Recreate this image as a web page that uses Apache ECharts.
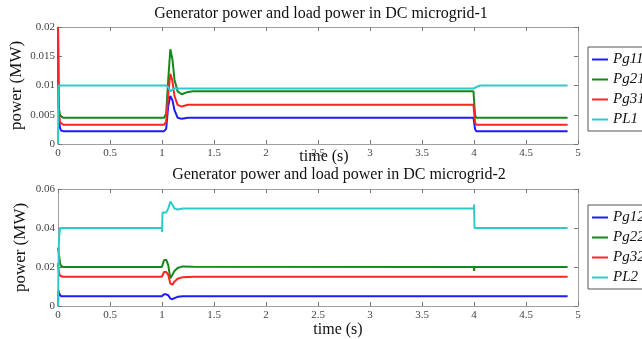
<!DOCTYPE html>
<html>
<head>
<meta charset="utf-8">
<script src="https://cdn.jsdelivr.net/npm/echarts@6/dist/echarts.min.js"></script>
<style>html,body{margin:0;padding:0;background:#fff;}#c{width:642px;height:339px;}</style>
</head>
<body>
<div id="c"></div>
<script>
// ---- Data ----
var xTicks = [0, 0.5, 1, 1.5, 2, 2.5, 3, 3.5, 4, 4.5, 5];
var names1 = ['Pg11', 'Pg21', 'Pg31', 'PL1'];
var names2 = ['Pg12', 'Pg22', 'Pg32', 'PL2'];

var t1   = [0, 0.005, 0.01, 0.02, 0.03, 0.05, 1.02, 1.04, 1.06, 1.08, 1.1, 1.12, 1.15, 1.19, 1.25, 1.3, 3.995, 4.0, 4.01, 4.02, 4.04, 4.07, 4.1, 4.9];
var pg11 = [0.02, 0.007, 0.004, 0.0027, 0.0023, 0.0022, 0.0022, 0.0026, 0.0065, 0.0082, 0.0075, 0.0058, 0.0045, 0.0043, 0.0045, 0.0045, 0.0045, 0.0045, 0.0026, 0.0022, 0.0022, 0.0022, 0.0022, 0.0022];
var pg21 = [0.02, 0.009, 0.006, 0.0048, 0.0046, 0.0045, 0.0045, 0.0052, 0.011, 0.0162, 0.0145, 0.011, 0.009, 0.0085, 0.0089, 0.009, 0.009, 0.009, 0.005, 0.0045, 0.0045, 0.0045, 0.0045, 0.0045];
var pg31 = [0.02, 0.008, 0.005, 0.0037, 0.0034, 0.0033, 0.0033, 0.0038, 0.0085, 0.012, 0.0108, 0.0082, 0.0067, 0.0064, 0.0067, 0.0067, 0.0067, 0.0067, 0.0037, 0.0033, 0.0033, 0.0033, 0.0033, 0.0033];
var pl1  = [0, 0.01, 0.01, 0.01, 0.01, 0.01, 0.01, 0.01, 0.0097, 0.009, 0.0093, 0.0095, 0.0095, 0.0095, 0.0095, 0.0095, 0.0095, 0.0095, 0.0096, 0.0097, 0.0099, 0.01, 0.01, 0.01];

var t2   = [0, 0.005, 0.01, 0.02, 0.03, 0.05, 0.999, 1.0, 1.005, 1.02, 1.04, 1.06, 1.08, 1.1, 1.12, 1.15, 1.2, 1.3, 3.999, 4.0, 4.005, 4.01, 4.9];
var pg12 = [0, 0.008, 0.0065, 0.0055, 0.005, 0.005, 0.005, 0.005, 0.0053, 0.006, 0.006, 0.0055, 0.0038, 0.0035, 0.004, 0.0047, 0.005, 0.005, 0.005, 0.005, 0.005, 0.005, 0.005];
var pg22 = [0.03, 0.028, 0.026, 0.022, 0.0205, 0.02, 0.02, 0.02, 0.021, 0.0235, 0.0238, 0.021, 0.0142, 0.016, 0.018, 0.0195, 0.0203, 0.0201, 0.02, 0.018, 0.02, 0.02, 0.02];
var pg32 = [0.022, 0.019, 0.017, 0.0155, 0.015, 0.015, 0.015, 0.015, 0.016, 0.0175, 0.0175, 0.016, 0.0115, 0.011, 0.0125, 0.014, 0.0148, 0.015, 0.015, 0.0152, 0.015, 0.015, 0.015];
var pl2  = [0, 0.02, 0.035, 0.04, 0.04, 0.04, 0.04, 0.038, 0.048, 0.048, 0.048, 0.05, 0.0535, 0.052, 0.05, 0.0495, 0.05, 0.05, 0.05, 0.052, 0.04, 0.04, 0.04];

var colors = ['#1c1cff', '#17871a', '#ff2424', '#2ccccc'];

function pairs(t, v) { return t.map(function (x, i) { return [x, v[i]]; }); }

var FONT = 'Liberation Serif';
var axisGray = '#a0a0a0';

function xAx(grid, main, name, gap, shift) {
  return {
    type: 'value', gridIndex: grid, min: 0, max: 5, interval: 0.5,
    position: main ? 'bottom' : 'top',
    name: main ? name : '', nameLocation: 'middle', nameGap: gap || 0, nameMoveOverlap: false,
    nameTextStyle: { fontFamily: FONT, fontSize: 16, color: '#111', padding: [0, 0, 0, shift || 0] },
    axisLine: { show: true, onZero: false, lineStyle: { color: axisGray, width: 1 } },
    axisTick: { show: true, inside: true, length: 4, lineStyle: { color: '#777' } },
    axisLabel: { show: main, fontFamily: FONT, fontSize: 11, color: '#444', margin: 4,
      formatter: function (v) { return String(v); } },
    splitLine: { show: false }
  };
}
function yAx(grid, main, max, interval, gap) {
  return {
    type: 'value', gridIndex: grid, min: 0, max: max, interval: interval,
    position: main ? 'left' : 'right',
    name: main ? 'power (MW)' : '', nameLocation: 'middle', nameGap: gap || 0, nameRotate: 90, nameMoveOverlap: false,
    nameTextStyle: { fontFamily: FONT, fontSize: 17, color: '#111' },
    axisLine: { show: true, onZero: false, lineStyle: { color: axisGray, width: 1 } },
    axisTick: { show: true, inside: true, length: 4, lineStyle: { color: '#777' } },
    axisLabel: { show: main, fontFamily: FONT, fontSize: 11, color: '#444', margin: 3,
      formatter: function (v) { return String(Math.round(v * 1000) / 1000); } },
    splitLine: { show: false }
  };
}

function ser(name, t, v, idx, axis) {
  return {
    name: name, type: 'line', data: pairs(t, v), xAxisIndex: axis, yAxisIndex: axis,
    showSymbol: false, symbol: 'none', animation: false,
    lineStyle: { color: colors[idx], width: 2 }, itemStyle: { color: colors[idx] }
  };
}

function leg(names, top) {
  return {
    data: names, orient: 'vertical', left: 588, top: top, itemGap: 5,
    icon: 'rect', itemWidth: 16, itemHeight: 2,
    padding: [5, 6, 4, 4], borderColor: '#555', borderWidth: 1,
    textStyle: { fontFamily: FONT, fontSize: 15, fontStyle: 'italic', color: '#111' }
  };
}

var chart = echarts.init(document.getElementById('c'));
chart.setOption({
  backgroundColor: '#fff',
  animation: false,
  title: [
    { text: 'Generator power and load power in DC microgrid-1', left: 316, top: 1, textAlign: 'center',
      textStyle: { fontFamily: FONT, fontSize: 16, fontWeight: 'normal', color: '#111' } },
    { text: 'Generator power and load power in DC microgrid-2', left: 334, top: 162, textAlign: 'center',
      textStyle: { fontFamily: FONT, fontSize: 16, fontWeight: 'normal', color: '#111' } }
  ],
  legend: [leg(names1, 47), leg(names2, 205)],
  grid: [
    { left: 58, top: 27, width: 520, height: 117, outerBoundsMode: 'none', containLabel: false },
    { left: 58, top: 189, width: 520, height: 117, outerBoundsMode: 'none', containLabel: false }
  ],
  xAxis: [xAx(0, true, 'time (s)', 5, 12), xAx(1, true, 'time (s)', 16, 40), xAx(0, false), xAx(1, false)],
  yAxis: [yAx(0, true, 0.02, 0.005, 33), yAx(1, true, 0.06, 0.02, 29), yAx(0, false, 0.02, 0.005), yAx(1, false, 0.06, 0.02)],
  series: [
    ser('Pg11', t1, pg11, 0, 0), ser('Pg21', t1, pg21, 1, 0), ser('Pg31', t1, pg31, 2, 0), ser('PL1', t1, pl1, 3, 0),
    ser('Pg12', t2, pg12, 0, 1), ser('Pg22', t2, pg22, 1, 1), ser('Pg32', t2, pg32, 2, 1), ser('PL2', t2, pl2, 3, 1)
  ]
});
</script>
</body>
</html>
